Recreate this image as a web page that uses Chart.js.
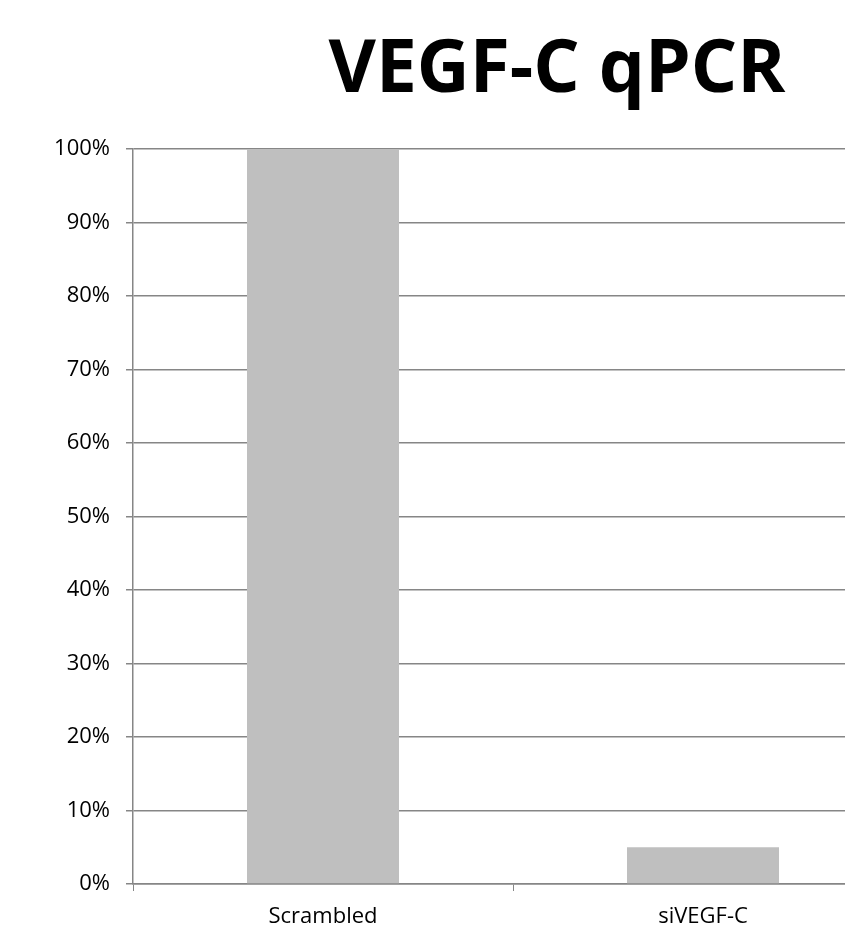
<!DOCTYPE html>
<html>
<head>
<meta charset="utf-8">
<script src="https://cdn.jsdelivr.net/npm/chart.js@4/dist/chart.umd.min.js"></script>
<style>
  html, body { margin: 0; padding: 0; background: #fff; overflow: hidden; }
  #wrap { width: 1114px; height: 933px; }
</style>
</head>
<body>
<div id="wrap"><canvas id="qpcrChart" width="1114" height="933"></canvas></div>
<script>
// chart data
const categories = ["Scrambled", "siVEGF-C"];
const expression = [1.0, 0.05];
const yTicks = [0, 0.1, 0.2, 0.3, 0.4, 0.5, 0.6, 0.7, 0.8, 0.9, 1.0];
const chartTitle = "VEGF-C qPCR";

const axisGray = "#868686";
const barGray = "#bfbfbf";

// title is centred on the whole canvas (plot area runs off the right edge)
const canvasTitle = {
    id: "canvasTitle",
    afterDraw(chart) {
        const c = chart.ctx;
        c.save();
        c.font = "bold 73px 'Open Sans'";
        c.fillStyle = "#000";
        c.textAlign = "center";
        c.textBaseline = "alphabetic";
        c.fillText(chartTitle, chart.width / 2, 92);
        c.restore();
    }
};

const ctx = document.getElementById("qpcrChart").getContext("2d");
new Chart(ctx, {
    type: "bar",
    data: {
        labels: categories,
        datasets: [{
            data: expression,
            backgroundColor: barGray,
            borderWidth: 0,
            barPercentage: 0.4,
            categoryPercentage: 1.0
        }]
    },
    options: {
        responsive: false,
        animation: false,
        layout: {
            padding: { left: 0, right: 221, top: 149, bottom: 0 }
        },
        plugins: {
            legend: { display: false },
            tooltip: { enabled: false },
            title: { display: false }
        },
        scales: {
            x: {
                afterFit: (scale) => {
                    scale.height = 49;
                    scale.paddingLeft = 0;
                    scale.paddingRight = 0;
                },
                grid: {
                    offset: true,
                    drawOnChartArea: false,
                    drawTicks: true,
                    tickLength: 7,
                    color: axisGray
                },
                border: { color: axisGray, width: 1.5 },
                ticks: {
                    color: "#000",
                    padding: 13,
                    font: { family: "'Open Sans'", size: 22 }
                }
            },
            y: {
                min: 0,
                max: 1,
                afterBuildTicks: (scale) => {
                    scale.ticks = yTicks.map(v => ({ value: v }));
                },
                afterFit: (scale) => {
                    scale.width = 133;
                    scale.paddingTop = 0;
                    scale.paddingBottom = 0;
                },
                grid: {
                    color: axisGray,
                    lineWidth: 1.5,
                    tickLength: 7
                },
                border: { color: axisGray, width: 1.5 },
                ticks: {
                    color: "#000",
                    padding: 16,
                    font: { family: "'Open Sans'", size: 22 },
                    callback: (v) => Math.round(v * 100) + "%"
                }
            }
        }
    },
    plugins: [canvasTitle]
});
</script>
</body>
</html>
